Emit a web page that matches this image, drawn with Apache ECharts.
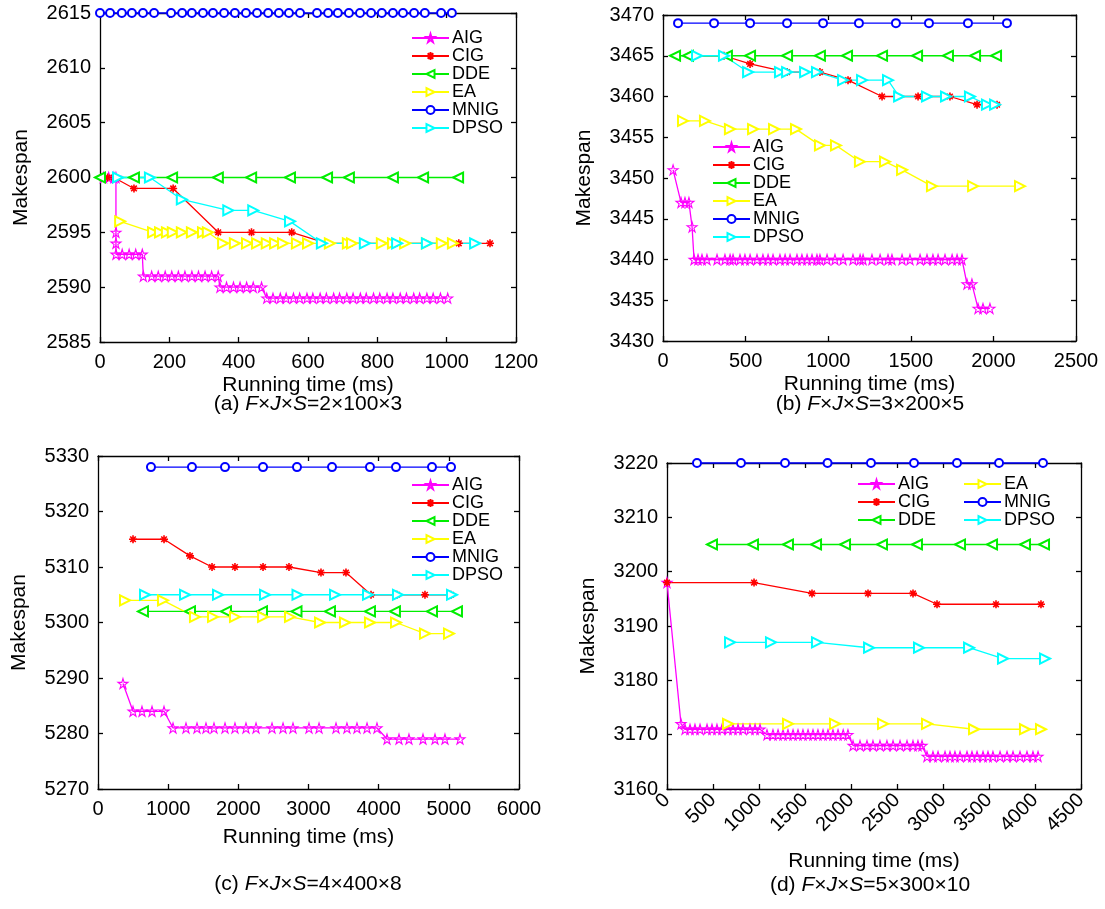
<!DOCTYPE html>
<html>
<head>
<meta charset="utf-8">
<script src="https://cdn.jsdelivr.net/npm/echarts@6.0.0/dist/echarts.min.js"></script>
<style>
  html, body { margin: 0; background: #fff; }
  #chart { width: 1105px; height: 909px; }
</style>
</head>
<body>
<div id="chart"></div>
<script>
// names of the algorithms, in legend order
const names = ['AIG', 'CIG', 'DDE', 'EA', 'MNIG', 'DPSO'];

// (a) F x J x S = 2 x 100 x 3   -> [running time (ms), makespan]
const a_AIG = [[10,2600],[25,2600],[40,2600],[46,2600],[46,2595],[46,2594],[46,2593],[64,2593],[84,2593],[103,2593],[122,2593],
  [125,2591],[149,2591],[168,2591],[188,2591],[207,2591],[226,2591],[245,2591],[265,2591],[284,2591],[303,2591],[322,2591],[341,2591],
  [346,2590],[365,2590],[385,2590],[404,2590],[423,2590],[442,2590],[466,2590],
  [481,2589],[499,2589],[520,2589],[537,2589],[558,2589],[576,2589],[597,2589],[614,2589],[635,2589],[653,2589],[674,2589],[691,2589],
  [712,2589],[730,2589],[751,2589],[768,2589],[789,2589],[807,2589],[828,2589],[845,2589],[866,2589],[884,2589],[905,2589],[922,2589],
  [943,2589],[961,2589],[982,2589],[1003,2589]];
const a_CIG = [[5,2600],[22,2600],[40,2600],[98,2599],[211,2599],[341,2595],[437,2595],[553,2595],[655,2594],[721,2594],[851,2594],[937,2594],[1035,2594],[1125,2594]];
const a_DDE = [[0,2600],[98,2600],[208,2600],[340,2600],[436,2600],[548,2600],[655,2600],[718,2600],[845,2600],[932,2600],[1033,2600]];
const a_EA = [[58,2596],[153,2595],[173,2595],[193,2595],[210,2595],[236,2595],[265,2595],[297,2595],[311,2595],
  [355,2594],[389,2594],[424,2594],[453,2594],[481,2594],[505,2594],[528,2594],[568,2594],[600,2594],[663,2594],[715,2594],
  [727,2594],[813,2594],[845,2594],[880,2594],[943,2594],[986,2594],[1018,2594]];
const a_MNIG = [[0,2615],[29,2615],[63,2615],[92,2615],[124,2615],[156,2615],[205,2615],[237,2615],[265,2615],[297,2615],[326,2615],
  [358,2615],[389,2615],[421,2615],[453,2615],[485,2615],[516,2615],[545,2615],[577,2615],[626,2615],[658,2615],[686,2615],
  [718,2615],[750,2615],[782,2615],[813,2615],[845,2615],[874,2615],[906,2615],[937,2615],[984,2615],[1015,2615]];
const a_DPSO = [[52,2600],[144,2600],[236,2598],[370,2597],[442,2597],[548,2596],[640,2594],[764,2594],[857,2594],[943,2594],[1082,2594]];

// (b) 3 x 200 x 5
const b_AIG = [[61,3451],[109,3447],[133,3447],[157,3447],[176,3444],[188,3440],[212,3440],[236,3440],[266,3440],[327,3440],[375,3440],
  [406,3440],[424,3440],[466,3440],[496,3440],[527,3440],[569,3440],[605,3440],[636,3440],[666,3440],[708,3440],[739,3440],[769,3440],
  [811,3440],[841,3440],[872,3440],[902,3440],[932,3440],[950,3440],[993,3440],[1041,3440],[1090,3440],[1150,3440],[1193,3440],
  [1211,3440],[1265,3440],[1314,3440],[1362,3440],[1386,3440],[1447,3440],[1495,3440],[1556,3440],[1598,3440],[1634,3440],
  [1665,3440],[1707,3440],[1750,3440],[1780,3440],[1810,3440],[1840,3437],[1870,3437],[1907,3434],[1937,3434],[1979,3434]];
const b_CIG = [[163,3465],[369,3465],[527,3464],[751,3463],[950,3463],[1120,3462],[1326,3460],[1544,3460],[1737,3460],[1901,3459],[2022,3459]];
const b_DDE = [[73,3465],[151,3465],[387,3465],[527,3465],[751,3465],[950,3465],[1114,3465],[1326,3465],[1538,3465],[1725,3465],[1889,3465],[2016,3465]];
const b_EA = [[121,3457],[254,3457],[405,3456],[545,3456],[672,3456],[805,3456],[950,3454],[1047,3454],[1192,3452],[1344,3452],[1447,3451],[1628,3449],[1877,3449],[2161,3449]];
const b_MNIG = [[91,3469],[309,3469],[527,3469],[751,3469],[969,3469],[1186,3469],[1410,3469],[1610,3469],[1846,3469],[2082,3469]];
const b_DPSO = [[206,3465],[369,3465],[515,3463],[708,3463],[751,3463],[860,3463],[932,3463],[1090,3462],[1205,3462],[1362,3462],
  [1429,3460],[1598,3460],[1713,3460],[1858,3460],[1961,3459],[2010,3459]];

// (c) 4 x 400 x 8
const c_AIG = [[356,5289],[499,5284],[627,5284],[770,5284],[941,5284],[1069,5281],[1254,5281],[1411,5281],[1539,5281],[1653,5281],
  [1810,5281],[1952,5281],[2109,5281],[2252,5281],[2480,5281],[2637,5281],[2779,5281],[3007,5281],[3150,5281],[3392,5281],[3548,5281],
  [3691,5281],[3834,5281],[3976,5281],[4119,5279],[4290,5279],[4432,5279],[4632,5279],[4803,5279],[4945,5279],[5159,5279]];
const c_CIG = [[499,5315],[941,5315],[1311,5312],[1625,5310],[1952,5310],[2352,5310],[2722,5310],[3178,5309],[3534,5309],[3891,5305],[4261,5305],[4660,5305],[5031,5305]];
const c_DDE = [[641,5302],[1311,5302],[1824,5302],[2337,5302],[2829,5302],[3306,5302],[3876,5302],[4232,5302],[4760,5302],[5116,5302]];
const c_EA = [[385,5304],[926,5304],[1382,5301],[1639,5301],[1952,5301],[2352,5301],[2736,5301],[3164,5300],[3520,5300],[3876,5300],[4247,5300],[4660,5298],[5002,5298]];
const c_MNIG = [[755,5328],[1339,5328],[1810,5328],[2352,5328],[2836,5328],[3335,5328],[3876,5328],[4247,5328],[4760,5328],[5031,5328]];
const c_DPSO = [[670,5305],[1240,5305],[1710,5305],[2380,5305],[2843,5305],[3378,5305],[3848,5305],[4275,5305],[5045,5305]];

// (d) 5 x 300 x 10
const d_AIG = [[0,3198],[152,3172],
  [196,3171],[250,3171],[304,3171],[359,3171],[435,3171],[489,3171],[543,3171],[598,3171],[663,3171],[717,3171],[772,3171],[826,3171],[902,3171],[957,3171],[1011,3171],
  [1087,3170],[1152,3170],[1207,3170],[1261,3170],[1315,3170],[1370,3170],[1424,3170],[1478,3170],[1533,3170],[1587,3170],[1641,3170],[1696,3170],[1750,3170],[1804,3170],[1859,3170],[1915,3170],[1967,3170],
  [2022,3168],[2098,3168],[2174,3168],[2239,3168],[2315,3168],[2391,3168],[2457,3168],[2533,3168],[2609,3168],[2674,3168],[2728,3168],[2772,3168],
  [2826,3166],[2891,3166],[2946,3166],[3022,3166],[3076,3166],[3130,3166],[3185,3166],[3261,3166],[3315,3166],[3370,3166],[3435,3166],[3489,3166],[3543,3166],[3620,3166],[3696,3166],[3761,3166],[3837,3166],[3913,3166],[3978,3166],[4033,3166]];
const d_CIG = [[0,3198],[946,3198],[1576,3196],[2185,3196],[2674,3196],[2935,3194],[3576,3194],[4065,3194]];
const d_DDE = [[489,3205],[935,3205],[1315,3205],[1620,3205],[1935,3205],[2337,3205],[2717,3205],[3185,3205],[3533,3205],[3891,3205],[4098,3205]];
const d_EA = [[663,3172],[1315,3172],[1826,3172],[2348,3172],[2826,3172],[3337,3171],[3891,3171],[4065,3171]];
const d_MNIG = [[326,3220],[804,3220],[1283,3220],[1745,3220],[2217,3220],[2685,3220],[3152,3220],[3609,3220],[4087,3220]];
const d_DPSO = [[685,3187],[1130,3187],[1630,3187],[2196,3186],[2739,3186],[3283,3186],[3652,3184],[4109,3184]];

// axis ranges [min, max, step]
const xRanges = [[0, 1200, 200], [0, 2500, 500], [0, 6000, 1000], [0, 4500, 500]];
const yRanges = [[2585, 2615, 5], [3430, 3470, 5], [5270, 5330, 10], [3160, 3220, 10]];
const captions = [['a', '2×100×3'], ['b', '3×200×5'], ['c', '4×400×8'], ['d', '5×300×10']];

const FONT = '"Liberation Sans", Arial, sans-serif';
const STAR = 'path://M50,0L61,35L98,35L68,57L79,91L50,70L21,91L32,57L2,35L39,35Z';
const ASTER = 'path://M5,0L5,10M0,5L10,5M1.5,1.5L8.5,8.5M1.5,8.5L8.5,1.5';

const look = {
  AIG:  {color: '#ff00ff', symbol: STAR, size: 10, fill: 'rgba(255,255,255,0)', border: 1.1},
  CIG:  {color: '#ff0000', symbol: ASTER, size: 8, fill: '#ff0000', border: 1.6},
  DDE:  {color: '#00ee00', symbol: 'emptyTriangle', size: 10, rotate: 90},
  EA:   {color: '#ffff00', symbol: 'emptyTriangle', size: 10, rotate: -90},
  MNIG: {color: '#0000ff', symbol: 'emptyCircle', size: 8},
  DPSO: {color: '#00ffff', symbol: 'emptyTriangle', size: 10, rotate: -90}
};

const panelData = [
  [a_AIG, a_CIG, a_DDE, a_EA, a_MNIG, a_DPSO],
  [b_AIG, b_CIG, b_DDE, b_EA, b_MNIG, b_DPSO],
  [c_AIG, c_CIG, c_DDE, c_EA, c_MNIG, c_DPSO],
  [d_AIG, d_CIG, d_DDE, d_EA, d_MNIG, d_DPSO]
];

const grids = [
  {left: 100, top: 13, width: 416, height: 329},
  {left: 663, top: 15, width: 413, height: 326},
  {left: 98, top: 456, width: 421, height: 333},
  {left: 667, top: 463, width: 414, height: 326}
];

const lineBlack = {color: '#000', width: 1.3};
const plain = v => String(v);
const nameGaps = [33, 33, 38, 62];

let xAxis = [], yAxis = [], series = [];
grids.forEach((g, i) => {
  const [x0, x1, xs] = xRanges[i];
  const [y0, y1, ys] = yRanges[i];
  const rotated = i === 3;
  xAxis.push({
    type: 'value', gridIndex: i, position: 'bottom', min: x0, max: x1, interval: xs,
    axisLine: {onZero: false, lineStyle: lineBlack},
    axisTick: {inside: true, length: 5, lineStyle: lineBlack},
    axisLabel: {color: '#000', fontSize: 20, fontFamily: FONT, margin: rotated ? 8 : 10, rotate: rotated ? 45 : 0, formatter: plain},
    splitLine: {show: false},
    name: 'Running time (ms)', nameLocation: 'middle', nameGap: nameGaps[i],
    nameTextStyle: {color: '#000', fontSize: 21, fontFamily: FONT}
  });
  xAxis.push({
    type: 'value', gridIndex: i, position: 'top', min: x0, max: x1, interval: xs,
    axisLine: {onZero: false, lineStyle: lineBlack},
    axisTick: {inside: true, length: 5, lineStyle: lineBlack},
    axisLabel: {show: false}, splitLine: {show: false}
  });
  yAxis.push({
    type: 'value', gridIndex: i, position: 'left', min: y0, max: y1, interval: ys,
    axisLine: {onZero: false, lineStyle: lineBlack},
    axisTick: {inside: true, length: 5, lineStyle: lineBlack},
    axisLabel: {color: '#000', fontSize: 20, fontFamily: FONT, margin: 9, formatter: plain},
    splitLine: {show: false},
    name: 'Makespan', nameLocation: 'middle', nameGap: 68,
    nameTextStyle: {color: '#000', fontSize: 21, fontFamily: FONT}
  });
  yAxis.push({
    type: 'value', gridIndex: i, position: 'right', min: y0, max: y1, interval: ys,
    axisLine: {onZero: false, lineStyle: lineBlack},
    axisTick: {inside: true, length: 5, lineStyle: lineBlack},
    axisLabel: {show: false}, splitLine: {show: false}
  });
  names.forEach((n, k) => {
    const s = look[n];
    series.push({
      name: n, type: 'line', xAxisIndex: 2 * i, yAxisIndex: 2 * i,
      data: panelData[i][k],
      symbol: s.symbol, symbolSize: s.size, symbolRotate: s.rotate || 0,
      showAllSymbol: true, clip: false,
      lineStyle: {color: s.color, width: 1.3},
      itemStyle: s.fill
        ? {color: s.fill, borderColor: s.color, borderWidth: s.border}
        : {color: s.color, borderWidth: 1.1},
      emphasis: {disabled: true}
    });
  });
});

function legendAt(left, top, data) {
  return {
    orient: 'vertical', left, top, data, padding: 0, itemWidth: 37, itemHeight: 10, itemGap: 0,
    textStyle: {color: '#000', fontSize: 18, fontFamily: FONT, lineHeight: 18, padding: [0, 0, 0, -2]},
    selectedMode: false
  };
}

const legend = [
  legendAt(411, 29, names),
  legendAt(712, 138, names),
  legendAt(411, 476, names),
  legendAt(857, 475, ['AIG', 'CIG', 'DDE']),
  legendAt(963, 475, ['EA', 'MNIG', 'DPSO'])
];

const capPos = [[308, 404], [870, 404], [308, 884], [870, 885]];
const graphic = captions.map((c, i) => ({
  type: 'text', x: capPos[i][0], y: capPos[i][1],
  style: {
    text: '{n|(' + c[0] + ') }{i|F}{n|×}{i|J}{n|×}{i|S}{n|=' + c[1] + '}',
    rich: {
      n: {fontSize: 21, fontFamily: FONT, fill: '#000'},
      i: {fontSize: 21, fontFamily: FONT, fontStyle: 'italic', fill: '#000'}
    },
    align: 'center', verticalAlign: 'middle'
  }
}));

const chart = echarts.init(document.getElementById('chart'));
chart.setOption({
  animation: false,
  backgroundColor: '#fff',
  grid: grids,
  xAxis, yAxis, series, legend, graphic
});
</script>
</body>
</html>
